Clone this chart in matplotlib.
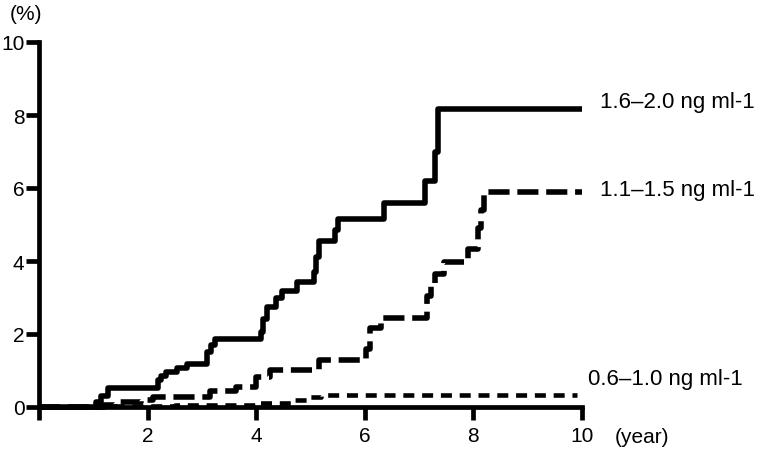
import numpy as np
import matplotlib
matplotlib.use('Agg')
import matplotlib.pyplot as plt

# cumulative incidence (%) by year
yearsHigh = [0, 1.05, 1.15, 1.27, 2.19, 2.25, 2.33, 2.55, 2.73, 3.1, 3.17, 3.25, 4.08, 4.13, 4.2,
             4.36, 4.48, 4.76, 5.06, 5.1, 5.15, 5.46, 5.51, 6.35, 7.11, 7.3, 7.35, 10]
pctHigh = [0, 0.15, 0.3, 0.52, 0.75, 0.85, 0.96, 1.08, 1.18, 1.5, 1.7, 1.86, 2.05, 2.4, 2.74,
           3.0, 3.18, 3.42, 3.7, 4.1, 4.55, 4.85, 5.15, 5.6, 6.2, 7.0, 8.16, 8.16]

yearsMid = [0, 1.1, 1.4, 1.87, 2.1, 3.15, 3.62, 4.0, 4.26, 5.15, 6.02, 6.1, 6.3, 7.15, 7.22,
            7.3, 7.45, 7.9, 8.08, 8.14, 8.2, 10]
pctMid = [0, 0.05, 0.14, 0.2, 0.27, 0.44, 0.55, 0.82, 1.02, 1.3, 1.6, 2.17, 2.44, 3.04, 3.4,
          3.64, 3.97, 4.33, 4.9, 5.4, 5.89, 5.89]

yearsLow = [0, 1.2, 2.5, 4.0, 4.7, 4.95, 5.2, 9.9]
pctLow = [0, 0.02, 0.05, 0.1, 0.19, 0.27, 0.32, 0.32]

labels = ['1.6\u20132.0 ng ml-1', '1.1\u20131.5 ng ml-1', '0.6\u20131.0 ng ml-1']
xTicks = [0, 2, 4, 6, 8, 10]
xTickLabels = ['', '2', '4', '6', '8', '10']
yTicks = [0, 2, 4, 6, 8, 10]

plt.rcParams['font.family'] = ['Liberation Sans', 'DejaVu Sans']
fontSize = 15

fig = plt.figure(figsize=(7.6, 4.56), dpi=100)
ax = fig.add_axes([39/760, 48/456, 543/760, 365/456])

lw = 4.0
ax.plot(yearsHigh, pctHigh, drawstyle='steps-post', color='black', lw=lw,
        solid_capstyle='butt', clip_on=False, zorder=3)
ax.plot(yearsMid, pctMid, drawstyle='steps-post', color='black', lw=lw,
        dashes=(3.8, 1.4), clip_on=False, zorder=3)
ax.plot(yearsLow, pctLow, drawstyle='steps-post', color='black', lw=3.3,
        dashes=(2.4, 1.7), clip_on=False, zorder=3)

ax.set_xlim(0, 10)
ax.set_ylim(0, 10)
ax.set_xticks(xTicks)
ax.set_xticklabels(xTickLabels)
ax.set_yticks(yTicks)

for side in ['top', 'right']:
  ax.spines[side].set_visible(False)
for side in ['left', 'bottom']:
  ax.spines[side].set_linewidth(3.4)
  ax.spines[side].set_capstyle('projecting')

ax.tick_params(axis='both', direction='out', length=9.5, width=3.4,
               labelsize=fontSize, pad=1)
ax.tick_params(axis='x', pad=4)

# series labels at the right
ax.text(10.33, 8.36, labels[0], fontsize=16, va='center', ha='left', clip_on=False)
ax.text(10.33, 5.97, labels[1], fontsize=16, va='center', ha='left', clip_on=False)
ax.text(10.11, 0.77, labels[2], fontsize=16, va='center', ha='left', clip_on=False)

fig.text(10/760, 1 - 14/456, '(%)', fontsize=fontSize, va='center', ha='left')
fig.text(615/760, 1 - 438/456, '(year)', fontsize=fontSize, va='center', ha='left')

fig.savefig('out.png', dpi=100)
